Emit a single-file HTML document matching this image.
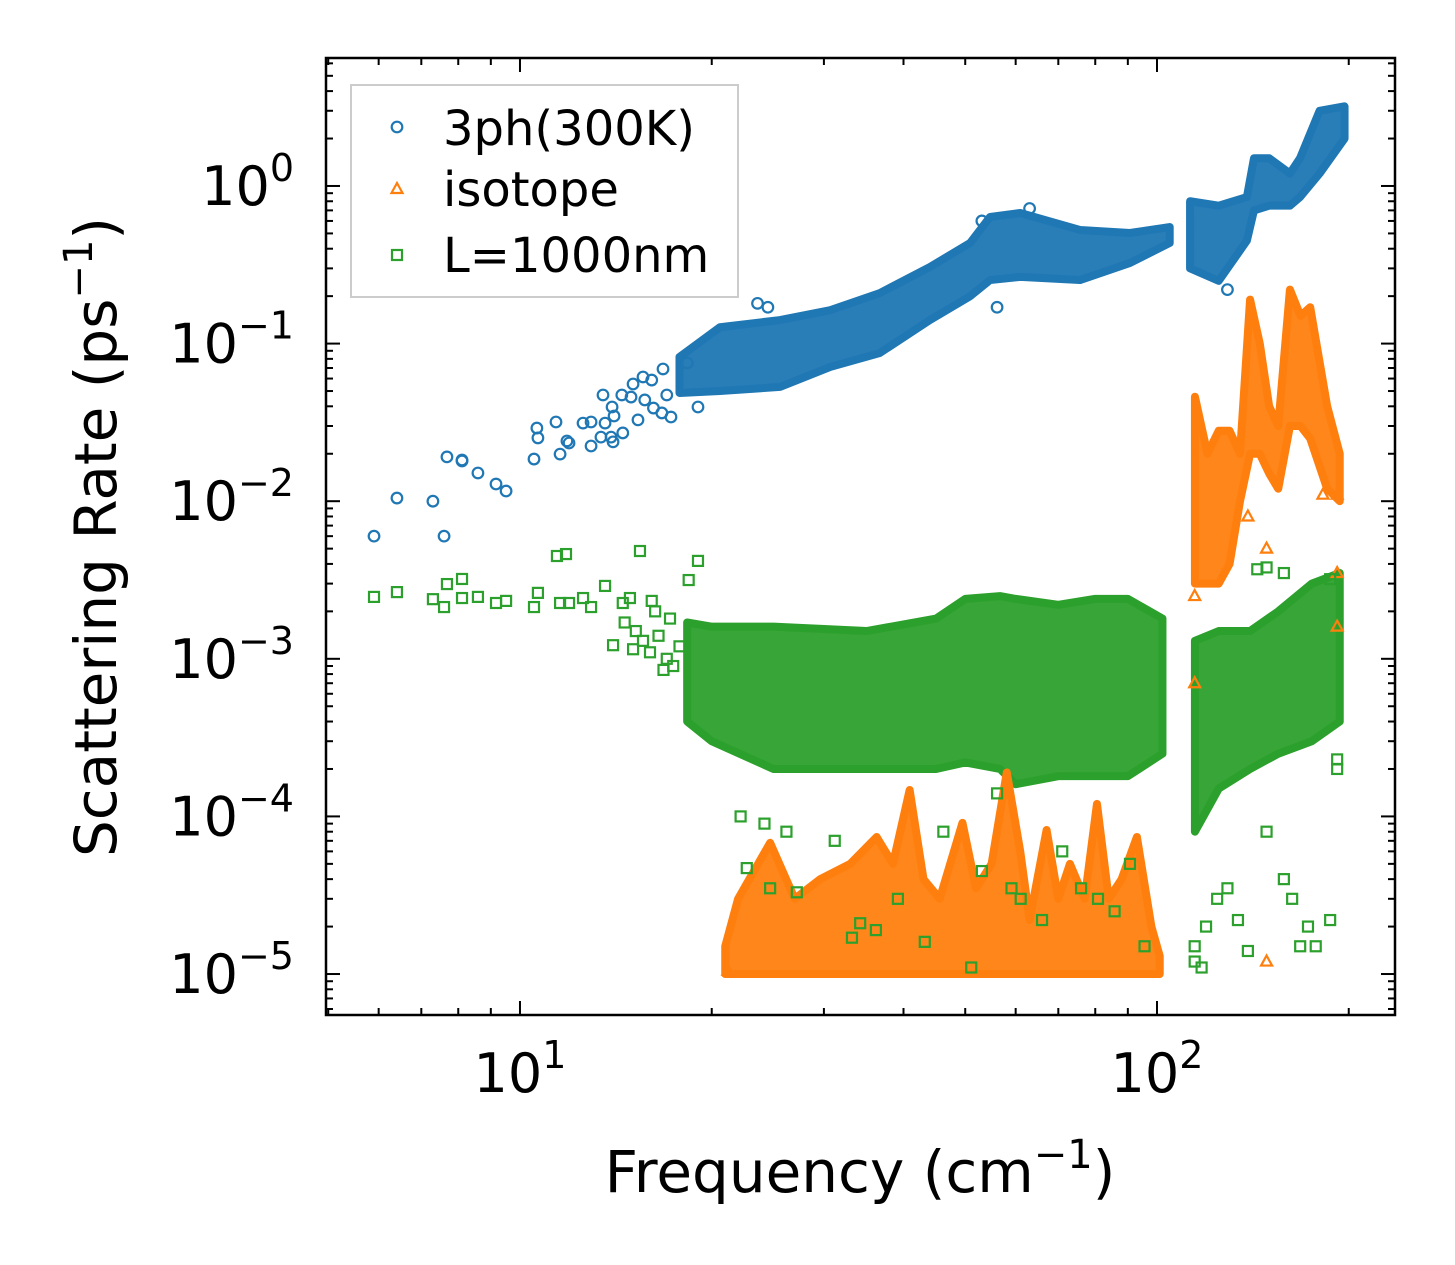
<!DOCTYPE html>
<html><head><meta charset="utf-8"><style>
html,body{margin:0;padding:0;background:#fff}
svg text{font-family:"DejaVu Sans","Liberation Sans",sans-serif}
</style></head><body>
<svg id="chart" width="1455" height="1265" viewBox="0 0 1455 1265" xmlns="http://www.w3.org/2000/svg" style="position:absolute;left:0;top:0">
<rect width="1455" height="1265" fill="#fff"/>
<g id="bands"></g><g id="marks"></g><g id="axes"></g>
</svg>
<script>
// ---- data ----
const xTickVals=[10,100];
const yTickVals=[1,0.1,0.01,0.001,0.0001,0.00001];
const yTickExps=["0","\u22121","\u22122","\u22123","\u22124","\u22125"];
const xTickExps=["1","2"];
const bluePts=[[5.90,0.0060],[6.41,0.01047],[7.30,0.0100],[7.60,0.0060],[7.68,0.0191],[8.11,0.01825],[8.11,0.018],[8.59,0.0151],[9.17,0.01285],[9.51,0.0116],[10.52,0.0185],[10.63,0.0291],[10.67,0.0252],[11.39,0.0318],[11.56,0.0199],[11.85,0.0241],[11.94,0.0234],[12.56,0.0313],[12.93,0.0318],[12.93,0.0224],[13.40,0.0255],[13.50,0.0472],[13.6,0.0313],[13.9,0.0255],[13.95,0.0396],[14.05,0.0347],[14.0,0.0238],[14.5,0.0271],[14.45,0.0472],[14.94,0.0458],[15.05,0.0554],[15.32,0.0328],[15.6,0.0614],[15.7,0.0439],[16.1,0.0587],[16.2,0.039],[16.7,0.0363],[17.26,0.0342],[17.0,0.0472],[16.77,0.069],[18.3,0.0753],[19.03,0.0396],[23.6,0.18],[24.5,0.17],[56.1,0.17],[129,0.22],[63.1,0.72],[53.1,0.6]];
const blueBand1=[[17.8,0.0486,0.0822],[20.6,0.05,0.127],[25.6,0.0531,0.141],[30.7,0.0711,0.163],[36.7,0.0871,0.209],[44,0.141,0.306],[50.9,0.2,0.435],[54.7,0.253,0.636],[61,0.265,0.674],[75.7,0.253,0.526],[90.7,0.325,0.503],[104.7,0.435,0.549]];
const blueBand2=[[112.7,0.3,0.8],[125,0.25,0.75],[138.4,0.45,0.85],[142,0.7,1.5],[150,0.75,1.5],[161.7,0.75,1.2],[167.7,0.85,1.5],[180,1.2,3.0],[197,2.0,3.2]];
const orangePts=[[114.6,0.0025],[114.6,0.0007],[148.6,0.000012],[182.2,0.011],[191.8,0.011],[191.8,0.0035],[191.8,0.0016],[138.9,0.008],[148.6,0.005],[21.2,0.0000105]];
const orangeBand1=[[21,1e-5,1.5e-5],[22,1e-5,3e-5],[24.7,1e-5,6.8e-5],[27,1e-5,3e-5],[29.6,1e-5,4e-5],[33,1e-5,5e-5],[36.3,1e-5,7.4e-5],[38.5,1e-5,5e-5],[40.9,1e-5,1.47e-4],[43,1e-5,4e-5],[45.6,1e-5,3e-5],[49.5,1e-5,9.1e-5],[52,1e-5,3.5e-5],[55,1e-5,5e-5],[58.1,1e-5,1.9e-4],[61,1e-5,6e-5],[63.1,1e-5,2.2e-5],[67.1,1e-5,8.2e-5],[70,1e-5,3e-5],[73,1e-5,5e-5],[77,1e-5,3e-5],[80.5,1e-5,1.2e-4],[84,1e-5,3e-5],[88,1e-5,4e-5],[93,1e-5,7.4e-5],[98,1e-5,2e-5],[101,1e-5,1.3e-5]];
const orangeBand2=[[114.7,0.003,0.046],[120,0.003,0.02],[125,0.003,0.028],[130,0.004,0.028],[135,0.01,0.02],[140,0.02,0.19],[145,0.02,0.1],[150,0.015,0.04],[155,0.012,0.03],[161.7,0.03,0.22],[168,0.03,0.15],[174,0.025,0.17],[185,0.012,0.04],[193.6,0.01,0.02]];
const greenPts=[[5.90,0.00247],[6.41,0.00265],[7.30,0.00239],[7.60,0.00213],[7.68,0.00298],[8.11,0.00321],[8.11,0.00243],[8.59,0.00247],[9.17,0.00226],[9.51,0.00233],[10.52,0.00213],[10.67,0.00262],[11.43,0.00449],[11.81,0.00462],[11.56,0.00226],[11.94,0.00226],[12.56,0.00243],[12.93,0.00213],[13.6,0.0029],[15.43,0.00483],[19.03,0.00418],[18.4,0.00316],[14.0,0.00122],[15.05,0.00115],[14.5,0.00226],[14.88,0.00243],[16.1,0.00233],[14.6,0.0017],[15.2,0.0015],[15.6,0.0013],[16.0,0.0011],[16.5,0.0014],[17.0,0.001],[17.4,0.0009],[17.8,0.0012],[16.3,0.002],[17.2,0.0018],[16.8,0.00085],[22.2,0.0001],[22.7,0.000047],[24.2,0.00009],[24.7,0.000035],[26.2,0.00008],[27.2,0.000033],[31.2,0.00007],[33.2,0.000017],[34.2,0.000021],[36.2,0.000019],[39.2,0.00003],[43.2,0.000016],[46.2,0.00008],[51.1,0.000011],[53.1,0.000045],[56.1,0.00014],[59.1,0.000035],[61.1,0.00003],[66,0.000022],[71,0.00006],[76,0.000035],[80.8,0.00003],[85.8,0.000025],[90.7,0.00005],[95.6,0.000015],[114.6,0.000015],[114.6,0.000012],[117.5,0.000011],[119.4,0.00002],[124.3,0.00003],[129,0.000035],[134,0.000022],[138.9,0.000014],[148.6,0.00008],[158.2,0.00004],[163,0.00003],[167.8,0.000015],[172.6,0.00002],[177.5,0.000015],[187,0.000022],[191.8,0.00023],[191.8,0.0002],[148.6,0.0038],[143.7,0.0037],[158.2,0.0035],[187,0.0032]];
const greenBand1=[[18.3,0.0004,0.0017],[20,0.0003,0.0016],[25,0.0002,0.0016],[35,0.0002,0.0015],[45,0.0002,0.0018],[50,0.00022,0.0024],[56.7,0.0002,0.0025],[60,0.00016,0.0024],[70,0.00018,0.0022],[80,0.00018,0.0024],[90,0.00018,0.0024],[102,0.00025,0.0018]];
const greenBand2=[[114.7,0.00008,0.0013],[125,0.00015,0.0015],[140,0.0002,0.0015],[155,0.00025,0.002],[175,0.0003,0.003],[193.6,0.0004,0.0035]];

const L=326,R=1395,T=58,B=1015;
const xmin=Math.log10(4.96),xmax=Math.log10(236.4);
const ymax=0.812,ymin=-5.26;
const X=v=>L+(Math.log10(v)-xmin)/(xmax-xmin)*(R-L);
const Y=v=>T+(ymax-Math.log10(v))/(ymax-ymin)*(B-T);
const NS="http://www.w3.org/2000/svg";
function mk(tag,attrs,parent){const e=document.createElementNS(NS,tag);for(const k in attrs)e.setAttribute(k,attrs[k]);parent.appendChild(e);return e;}
const bandsG=document.getElementById('bands'),marksG=document.getElementById('marks'),axesG=document.getElementById('axes');
const C={blue:'#1f77b4',orange:'#ff7f0e',green:'#2ca02c'};

function band(data,color,name){
  const top=data.map(d=>X(d[0])+','+Y(d[2])).join(' ');
  const bot=data.slice().reverse().map(d=>X(d[0])+','+Y(d[1])).join(' ');
  const p=mk('polygon',{points:top+' '+bot,fill:color,stroke:color,'stroke-width':8,'stroke-linejoin':'round','fill-opacity':0.95},bandsG);
  
  
}
function marker(kind,x,y,color,parent){
  let e;
  if(kind==='circle')e=mk('circle',{cx:x,cy:y,r:5.3,fill:'none',stroke:color,'stroke-width':2.2},parent);
  else if(kind==='tri')e=mk('polygon',{points:`${x},${y-6} ${x-5.5},${y+4} ${x+5.5},${y+4}`,fill:'none',stroke:color,'stroke-width':2.2},parent);
  else e=mk('rect',{x:x-5,y:y-5,width:10,height:10,fill:'none',stroke:color,'stroke-width':2.2},parent);
  return e;
}
function pts(data,kind,color,name){
  data.forEach(d=>{const e=marker(kind,X(d[0]),Y(d[1]),color,marksG);
    
    });
}
band(greenBand1,C.green,'green-dense-region');band(greenBand2,C.green,'green-dense-region');
band(blueBand1,C.blue,'blue-dense-region');band(blueBand2,C.blue,'blue-dense-region');
band(orangeBand1,C.orange,'orange-dense-region');band(orangeBand2,C.orange,'orange-dense-region');
pts(bluePts,'circle',C.blue,'3ph-point');
pts(orangePts,'tri',C.orange,'isotope-point');
pts(greenPts,'square',C.green,'boundary-point');

const fr=mk('rect',{x:L,y:T,width:R-L,height:B-T,fill:'none',stroke:'#000','stroke-width':2.5},axesG);


for(let dec=0;dec<=2;dec++){for(let m=1;m<10;m++){const v=m*Math.pow(10,dec);const x=X(v);if(x<L||x>R)continue;const len=m===1?14:7;
  mk('line',{x1:x,y1:B,x2:x,y2:B-len,stroke:'#000','stroke-width':2},axesG);
  mk('line',{x1:x,y1:T,x2:x,y2:T+len,stroke:'#000','stroke-width':2},axesG);}}
xTickVals.forEach((v,i)=>{const t=mk('text',{x:X(v),y:1092,'font-size':54,'text-anchor':'middle'},axesG);
  
  
  t.textContent='10';
  const s=mk('tspan',{dy:-24,'font-size':38},t);s.textContent=xTickExps[i];});
for(let dec=-6;dec<=0;dec++){for(let m=1;m<10;m++){const v=m*Math.pow(10,dec);const y=Y(v);if(y<T||y>B)continue;const len=m===1?14:7;
  mk('line',{x1:L,y1:y,x2:L+len,y2:y,stroke:'#000','stroke-width':2},axesG);
  mk('line',{x1:R,y1:y,x2:R-len,y2:y,stroke:'#000','stroke-width':2},axesG);}}
yTickVals.forEach((v,i)=>{const y=Y(v);const t=mk('text',{x:294,y:y+19,'font-size':54,'text-anchor':'end'},axesG);
  
  
  t.textContent='10';
  const s=mk('tspan',{dy:-24,'font-size':38},t);s.textContent=yTickExps[i];});
</script>
<svg style="position:absolute;left:0;top:0" width="1455" height="1265">
<text x="860" y="1192" font-size="58" text-anchor="middle">Frequency (cm<tspan dy="-24" font-size="40">−1</tspan><tspan dy="24">)</tspan></text>
<text transform="translate(116,537) rotate(-90)" font-size="58" text-anchor="middle">Scattering Rate (ps<tspan dy="-24" font-size="40">−1</tspan><tspan dy="24">)</tspan></text>
<g font-size="48">
<rect x="351" y="85" width="387" height="212" fill="#fff" fill-opacity="0.8" stroke="#ccc" stroke-width="2"/>
<circle cx="397" cy="127" r="5.3" fill="none" stroke="#1f77b4" stroke-width="2.2"/>
<text x="443" y="145">3ph(300K)</text>
<polygon points="397,183 391.5,193 402.5,193" fill="none" stroke="#ff7f0e" stroke-width="2.2"/>
<text x="443" y="206">isotope</text>
<rect x="392" y="250" width="10" height="10" fill="none" stroke="#2ca02c" stroke-width="2.2"/>
<text x="443" y="272">L=1000nm</text>
</g>
</svg>
</body></html>
